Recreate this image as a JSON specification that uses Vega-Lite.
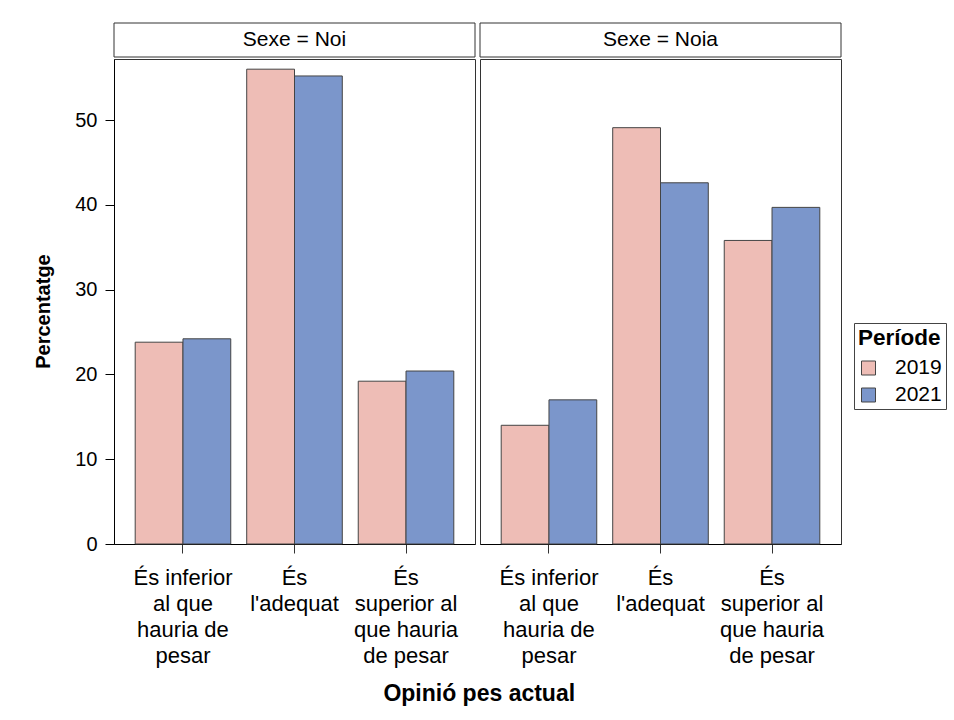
{
  "$schema": "https://vega.github.io/schema/vega-lite/v6.json",
  "padding": {"left": 33, "top": 22, "right": 5, "bottom": 5},
  "background": "white",
  "config": {"font": "Liberation Sans", "view": {"stroke": "#333", "strokeWidth": 1}},
  "datasets": {
    "bars": [
      {"Sexe": "Noi", "Opinio": "És inferior al que hauria de pesar", "Periode": "2019", "Percentatge": 23.8},
      {"Sexe": "Noi", "Opinio": "És inferior al que hauria de pesar", "Periode": "2021", "Percentatge": 24.2},
      {"Sexe": "Noi", "Opinio": "És l'adequat", "Periode": "2019", "Percentatge": 56.0},
      {"Sexe": "Noi", "Opinio": "És l'adequat", "Periode": "2021", "Percentatge": 55.2},
      {"Sexe": "Noi", "Opinio": "És superior al que hauria de pesar", "Periode": "2019", "Percentatge": 19.2},
      {"Sexe": "Noi", "Opinio": "És superior al que hauria de pesar", "Periode": "2021", "Percentatge": 20.4},
      {"Sexe": "Noia", "Opinio": "És inferior al que hauria de pesar", "Periode": "2019", "Percentatge": 14.0},
      {"Sexe": "Noia", "Opinio": "És inferior al que hauria de pesar", "Periode": "2021", "Percentatge": 17.0},
      {"Sexe": "Noia", "Opinio": "És l'adequat", "Periode": "2019", "Percentatge": 49.1},
      {"Sexe": "Noia", "Opinio": "És l'adequat", "Periode": "2021", "Percentatge": 42.6},
      {"Sexe": "Noia", "Opinio": "És superior al que hauria de pesar", "Periode": "2019", "Percentatge": 35.8},
      {"Sexe": "Noia", "Opinio": "És superior al que hauria de pesar", "Periode": "2021", "Percentatge": 39.7}
    ]
  },
  "title": {"text": "Opinió pes actual", "orient": "bottom", "anchor": "start", "frame": "bounds", "align": "center", "dx": 446, "fontSize": 23, "fontWeight": "bold", "color": "black", "offset": 16},
  "spacing": 3,
  "hconcat": [
    {
      "bounds": "flush",
      "spacing": 2,
      "vconcat": [
        {
          "data": {"values": [{"label": "Sexe = Noi"}]},
          "width": 361,
          "height": 34,
          "layer": [
            {"mark": {"type": "rect", "fill": "white", "stroke": "#333", "strokeWidth": 1}, "encoding": {}},
            {"mark": {"type": "text", "fontSize": 21, "color": "black"}, "encoding": {"text": {"field": "label"}}}
          ]
        },
        {
          "data": {"name": "bars"},
          "transform": [{"filter": "datum.Sexe == 'Noi'"}],
          "width": 361,
          "height": 485,
          "mark": {"type": "bar", "stroke": "#444", "strokeWidth": 1},
          "encoding": {
            "x": {
              "field": "Opinio",
              "type": "nominal",
              "sort": ["És inferior al que hauria de pesar", "És l'adequat", "És superior al que hauria de pesar"],
              "scale": {"paddingInner": 0.143, "paddingOuter": 0.19},
              "title": null,
              "axis": {
                "labelAngle": 0,
                "labelFontSize": 22,
                "labelColor": "black",
                "labelLineHeight": 26,
                "labelPadding": 14,
                "labelBaseline": "top",
                "tickSize": 9,
                "tickColor": "#333",
                "domainColor": "black",
                "labelExpr": "datum.value == \"És inferior al que hauria de pesar\" ? [\"És inferior\", \"al que\", \"hauria de\", \"pesar\"] : datum.value == \"És l'adequat\" ? [\"És\", \"l'adequat\"] : [\"És\", \"superior al\", \"que hauria\", \"de pesar\"]"
              }
            },
            "xOffset": {"field": "Periode", "type": "nominal", "sort": ["2019", "2021"], "scale": {"paddingInner": 0, "paddingOuter": 0}},
            "y": {
              "field": "Percentatge",
              "type": "quantitative",
              "title": "Percentatge",
              "scale": {"domain": [0, 57.2], "nice": false},
              "axis": {
                "values": [0, 10, 20, 30, 40, 50],
                "grid": false,
                "labelFontSize": 20,
                "labelColor": "black",
                "labelPadding": 8,
                "tickSize": 9,
                "tickColor": "black",
                "domainColor": "black",
                "titleFontSize": 20,
                "titleFontWeight": "bold",
                "titleColor": "black",
                "titlePadding": 21,
                "titleY": 252
              }
            },
            "color": {
              "field": "Periode",
              "type": "nominal",
              "title": "Període",
              "scale": {"domain": ["2019", "2021"], "range": ["#EEBDB6", "#7B96CB"]},
              "legend": {
                "orient": "none",
                "legendX": 740,
                "legendY": 300,
                "titleFontSize": 22.5,
                "titleFontWeight": "bold",
                "titleColor": "black",
                "titlePadding": 8,
                "labelFontSize": 21,
                "labelColor": "black",
                "labelOffset": 16,
                "symbolType": "square",
                "symbolSize": 196,
                "symbolStrokeColor": "#444",
                "symbolStrokeWidth": 1,
                "strokeColor": "#444",
                "padding": 4,
                "rowPadding": 5
              }
            }
          }
        }
      ]
    },
    {
      "bounds": "flush",
      "spacing": 2,
      "vconcat": [
        {
          "data": {"values": [{"label": "Sexe = Noia"}]},
          "width": 361,
          "height": 34,
          "layer": [
            {"mark": {"type": "rect", "fill": "white", "stroke": "#333", "strokeWidth": 1}, "encoding": {}},
            {"mark": {"type": "text", "fontSize": 21, "color": "black"}, "encoding": {"text": {"field": "label"}}}
          ]
        },
        {
          "data": {"name": "bars"},
          "transform": [{"filter": "datum.Sexe == 'Noia'"}],
          "width": 361,
          "height": 485,
          "mark": {"type": "bar", "stroke": "#444", "strokeWidth": 1},
          "encoding": {
            "x": {
              "field": "Opinio",
              "type": "nominal",
              "sort": ["És inferior al que hauria de pesar", "És l'adequat", "És superior al que hauria de pesar"],
              "scale": {"paddingInner": 0.143, "paddingOuter": 0.19},
              "title": null,
              "axis": {
                "labelAngle": 0,
                "labelFontSize": 22,
                "labelColor": "black",
                "labelLineHeight": 26,
                "labelPadding": 14,
                "labelBaseline": "top",
                "tickSize": 9,
                "tickColor": "#333",
                "domainColor": "black",
                "labelExpr": "datum.value == \"És inferior al que hauria de pesar\" ? [\"És inferior\", \"al que\", \"hauria de\", \"pesar\"] : datum.value == \"És l'adequat\" ? [\"És\", \"l'adequat\"] : [\"És\", \"superior al\", \"que hauria\", \"de pesar\"]"
              }
            },
            "xOffset": {"field": "Periode", "type": "nominal", "sort": ["2019", "2021"], "scale": {"paddingInner": 0, "paddingOuter": 0}},
            "y": {
              "field": "Percentatge",
              "type": "quantitative",
              "scale": {"domain": [0, 57.2], "nice": false},
              "axis": null
            },
            "color": {
              "field": "Periode",
              "type": "nominal",
              "title": "Període",
              "scale": {"domain": ["2019", "2021"], "range": ["#EEBDB6", "#7B96CB"]}
            }
          }
        }
      ]
    }
  ]
}
